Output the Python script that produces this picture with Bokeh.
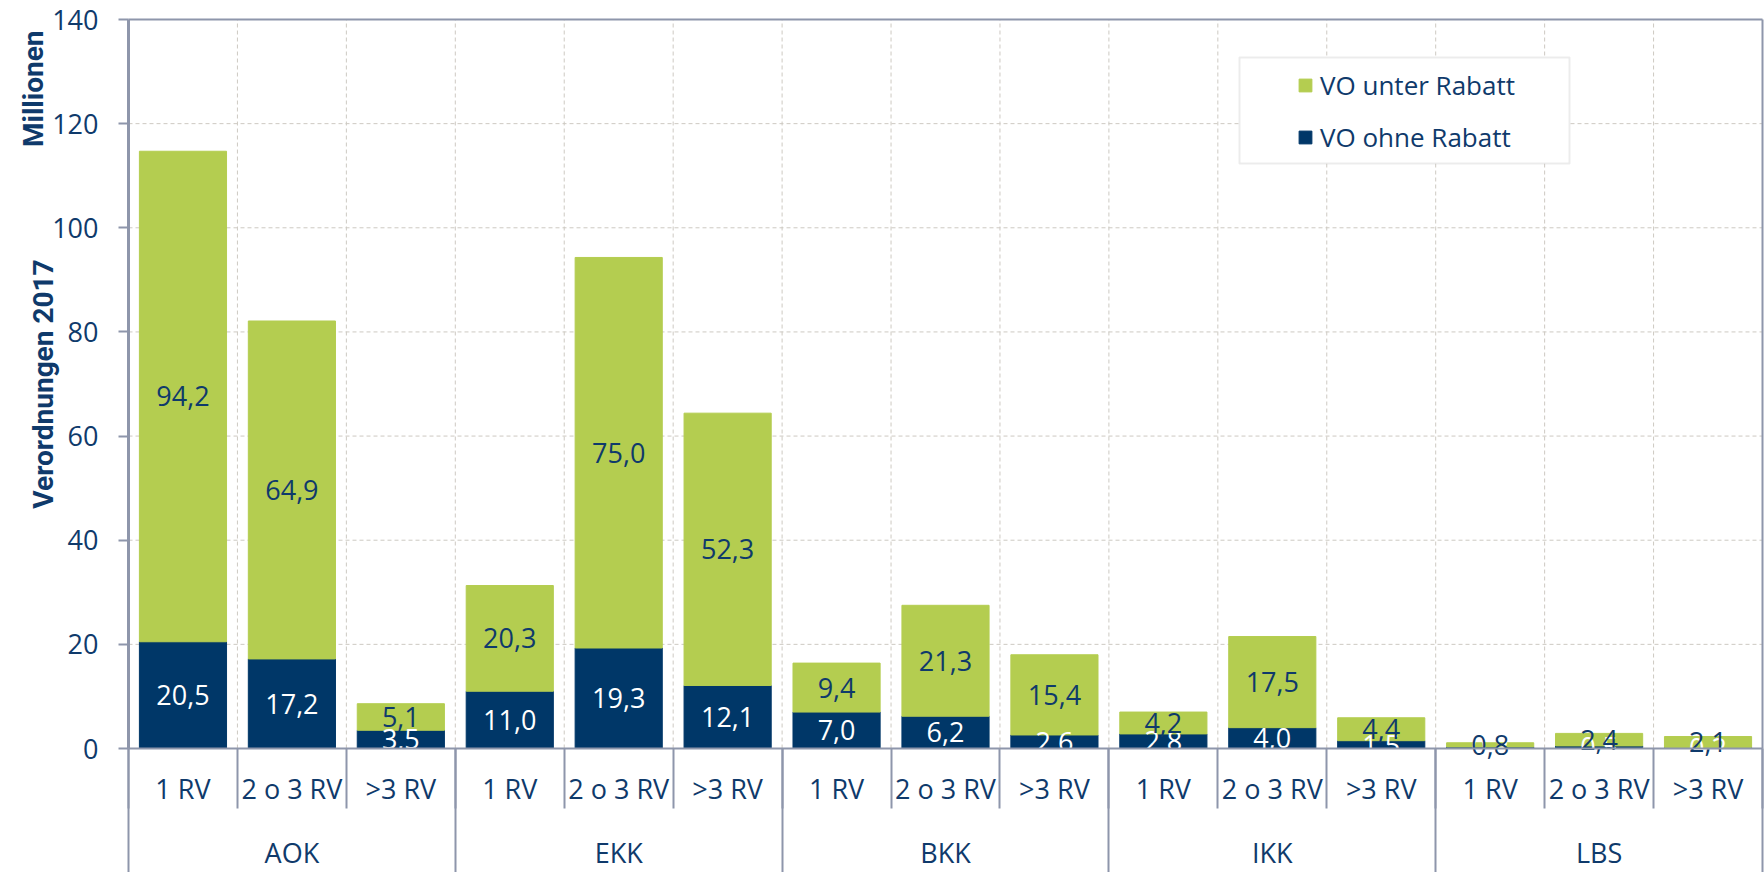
from bokeh.plotting import figure
from bokeh.models import (Range1d, FixedTicker, LinearAxis, ColumnDataSource,
                          Legend, LegendItem, BoxAnnotation, Label)
from bokeh.core.properties import value
from bokeh.embed import file_html
from bokeh.resources import INLINE

# ---------------- data ----------------
groups = ["AOK", "EKK", "BKK", "IKK", "LBS"]
subgroups = ["1 RV", "2 o 3 RV", ">3 RV"]
ohne_rabatt = [20.5, 17.2, 3.5, 11.0, 19.3, 12.1, 7.0, 6.2, 2.6, 2.8, 4.0, 1.5, 0.3, 0.5, 0.2]
unter_rabatt = [94.2, 64.9, 5.1, 20.3, 75.0, 52.3, 9.4, 21.3, 15.4, 4.2, 17.5, 4.4, 0.8, 2.4, 2.1]
y_ticks = [0, 20, 40, 60, 80, 100, 120, 140]
series_names = ["VO unter Rabatt", "VO ohne Rabatt"]
y_title = "Verordnungen 2017"
unit_title = "Millionen"

# ---------------- style / layout (pixels) ----------------
NAVY = "#003768"
GREEN = "#B4CD50"
TEXT = "#0F3A6B"
AXIS = "#8E96AB"
GRID = "#CDC9C2"
FONT = "Open Sans"
TITLE_FONT = "Roboto"

W, H = 1764, 872
PLOT_L, PLOT_R = 128, 1762     # value area, horizontal
PLOT_T, PLOT_B = 19, 748       # value area, vertical (140 .. 0)

n = len(ohne_rabatt)
ns = len(subgroups)
xs = list(range(n))
y_lo, y_hi = y_ticks[0], y_ticks[-1]
x_lo, x_hi = -0.5, n - 0.5

ux = (PLOT_R - PLOT_L) / (x_hi - x_lo)
uy = (PLOT_B - PLOT_T) / (y_hi - y_lo)
x_range = Range1d(x_lo - PLOT_L / ux, x_hi + (W - PLOT_R) / ux)
y_range = Range1d(y_lo - (H - PLOT_B) / uy, y_hi + PLOT_T / uy)


def fmt(v):
    return f"{v:.1f}".replace(".", ",")


src = ColumnDataSource(dict(
    x=xs,
    ohne=ohne_rabatt,
    unter=unter_rabatt,
    ohne_mid=[o / 2 for o in ohne_rabatt],
    unter_mid=[o + u / 2 for o, u in zip(ohne_rabatt, unter_rabatt)],
    ohne_lab=[fmt(v) for v in ohne_rabatt],
    unter_lab=[fmt(v) for v in unter_rabatt],
))

p = figure(width=W, height=H, x_range=x_range, y_range=y_range,
           output_backend="svg", toolbar_location=None,
           min_border_left=0, min_border_right=0, min_border_top=0, min_border_bottom=0)
p.background_fill_color = "white"
p.border_fill_color = "white"
p.outline_line_color = None
p.xgrid.visible = False
p.ygrid.visible = False

# dashed grid inside the value area
hgrid = y_ticks[1:-1]
p.segment(x0=[x_lo] * len(hgrid), x1=[x_hi] * len(hgrid), y0=hgrid, y1=hgrid,
          line_color=GRID, line_dash="4 3", line_width=1, level="underlay")
vgrid = [i + 0.5 for i in range(n - 1)]
p.segment(x0=vgrid, x1=vgrid, y0=[y_lo] * len(vgrid), y1=[y_hi] * len(vgrid),
          line_color=GRID, line_dash="4 3", line_width=1, level="underlay")

# top and right border of the value area
p.segment(x0=[x_lo, x_hi], x1=[x_hi, x_hi], y0=[y_hi, y_lo], y1=[y_hi, y_hi],
          line_color=AXIS, line_width=2)

# bars
rs = p.vbar_stack(["ohne", "unter"], x="x", width=0.8, color=[NAVY, GREEN], source=src)

# value labels
p.text(x="x", y="ohne_mid", text="ohne_lab", source=src, text_color="white",
       text_font=value(FONT), text_font_size="27px", text_align="center", text_baseline="middle")
p.text(x="x", y="unter_mid", text="unter_lab", source=src, text_color=TEXT,
       text_font=value(FONT), text_font_size="27px", text_align="center", text_baseline="middle")

# y axis, drawn at the left edge of the value area
yax = p.yaxis[0]
yax.fixed_location = x_lo
yax.bounds = (y_lo, y_hi)
yax.ticker = FixedTicker(ticks=y_ticks)
yax.minor_tick_line_color = None
yax.major_tick_out = 10
yax.major_tick_in = 0
yax.major_tick_line_color = AXIS
yax.major_tick_line_width = 2
yax.axis_line_color = AXIS
yax.axis_line_width = 3
yax.major_label_text_font = FONT
yax.major_label_text_font_size = "27px"
yax.major_label_text_color = TEXT
yax.major_label_standoff = 20

# axis titles
p.add_layout(Label(x=43, y=(y_lo + y_hi) / 2, x_units="screen", y_units="data", text=y_title,
                   angle=90, angle_units="deg", text_align="center", text_baseline="alphabetic",
                   text_font=TITLE_FONT, text_font_size="28px", text_font_style="bold",
                   text_color=TEXT))
p.add_layout(Label(x=33, y=H - 30, x_units="screen", y_units="screen", text=unit_title,
                   angle=90, angle_units="deg", text_align="right", text_baseline="alphabetic",
                   text_font=TITLE_FONT, text_font_size="28px", text_font_style="bold",
                   text_color=TEXT))


def style_x(ax):
    ax.fixed_location = y_lo
    ax.major_tick_line_color = None
    ax.major_tick_out = 0
    ax.major_tick_in = 0
    ax.minor_tick_in = 0
    ax.major_label_text_font = FONT
    ax.major_label_text_font_size = "27px"
    ax.major_label_text_color = TEXT


# x axis: sub categories (labels + zero line)
sub_ax = p.xaxis[0]
style_x(sub_ax)
sub_ax.bounds = (x_lo, x_hi)
sub_ax.ticker = FixedTicker(ticks=xs)
sub_ax.major_label_overrides = {i: subgroups[i % ns] for i in xs}
sub_ax.minor_tick_line_color = None
sub_ax.minor_tick_out = 0
sub_ax.axis_line_color = AXIS
sub_ax.axis_line_width = 2
sub_ax.major_label_standoff = 21

# x axis: group labels
group_centers = [k * ns + (ns - 1) / 2 for k in range(len(groups))]
grp_ax = LinearAxis(ticker=FixedTicker(ticks=group_centers))
style_x(grp_ax)
grp_ax.major_label_overrides = {c: g for c, g in zip(group_centers, groups)}
grp_ax.axis_line_color = None
grp_ax.minor_tick_line_color = None
grp_ax.minor_tick_out = 0
grp_ax.major_label_standoff = 85
p.add_layout(grp_ax, "below")

# separators between sub categories
sep_ax = LinearAxis(ticker=FixedTicker(ticks=[], minor_ticks=[i - 0.5 for i in range(n + 1)]))
style_x(sep_ax)
sep_ax.axis_line_color = None
sep_ax.minor_tick_line_color = AXIS
sep_ax.minor_tick_line_width = 2
sep_ax.minor_tick_out = 60
p.add_layout(sep_ax, "below")

# separators between groups
group_edges = [k * ns - 0.5 for k in range(len(groups) + 1)]
gsep_ax = LinearAxis(ticker=FixedTicker(ticks=[], minor_ticks=group_edges))
style_x(gsep_ax)
gsep_ax.axis_line_color = None
gsep_ax.minor_tick_line_color = AXIS
gsep_ax.minor_tick_line_width = 2
gsep_ax.minor_tick_out = H - PLOT_B + 10
p.add_layout(gsep_ax, "below")

# legend
box = BoxAnnotation(left=1239, right=1569, top=H - 57, bottom=H - 163,
                    left_units="screen", right_units="screen", top_units="screen", bottom_units="screen",
                    fill_color="white", fill_alpha=1.0, line_color="#C0C0C0", line_width=2)
p.add_layout(box)
legend = Legend(items=[LegendItem(label=series_names[0], renderers=[rs[1]]),
                       LegendItem(label=series_names[1], renderers=[rs[0]])],
                location=(1297, H - 155), padding=0, spacing=16, label_height=36,
                glyph_width=16, glyph_height=16, label_standoff=7,
                border_line_color=None, background_fill_alpha=0,
                label_text_font=FONT, label_text_font_size="26px", label_text_color=TEXT)
p.add_layout(legend)

open("out.html", "w").write(file_html(p, INLINE))
